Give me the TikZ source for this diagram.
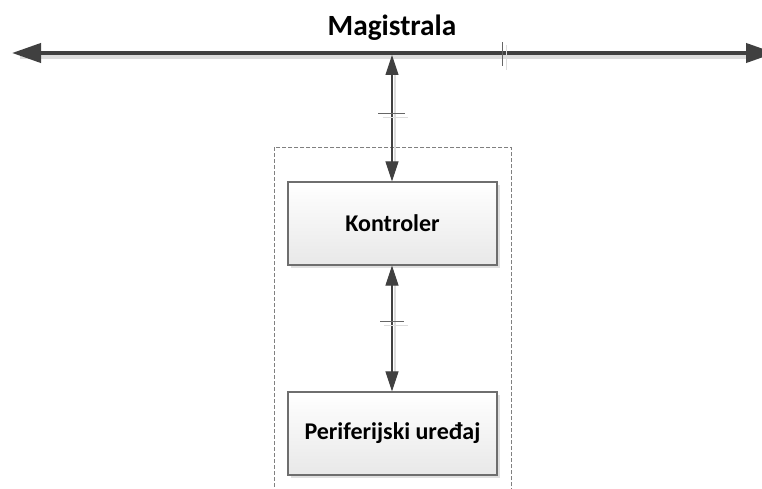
\documentclass[tikz,border=0pt]{standalone}
\usepackage{fontspec}
\setmainfont{Carlito}
\usetikzlibrary{arrows.meta,shadows}
\definecolor{dk}{HTML}{404040}
\definecolor{shd}{HTML}{DCDCDC}
\definecolor{bord}{HTML}{6E6E6E}
\tikzset{
  blockbox/.style={draw=bord, line width=0.9pt, top color=white, bottom color=black!9,
    minimum width=209*0.75pt, minimum height=83*0.75pt, inner sep=0pt,
    font=\fontsize{18}{21}\selectfont\bfseries,
    drop shadow={shadow xshift=2.5pt, shadow yshift=-2.5pt, fill=black!12, opacity=1}},
  busline/.style={draw=dk, line width=3pt,
    {Triangle[length=21.75pt,width=14.25pt]}-{Triangle[length=21.75pt,width=14.25pt]}},
  busshadow/.style={draw=shd, line width=3pt},
  link/.style={draw=dk, line width=0.8pt,
    {Triangle[length=15pt,width=9.75pt]}-{Triangle[length=15pt,width=9.75pt]}},
  linkshadow/.style={draw=shd, line width=0.8pt},
  tickmark/.style={draw=black!60, line width=0.7pt},
  container/.style={draw=black!50, line width=0.6pt, dash pattern=on 3pt off 1.5pt}
}
\begin{document}
\begin{tikzpicture}[x=0.75pt,y=-0.75pt]
\useasboundingbox (0,0) rectangle (762,488);
% container
\begin{scope}
\clip (0,0) rectangle (762,488);
\node[container, minimum width=237*0.75pt, minimum height=360*0.75pt, inner sep=0pt, anchor=north west] (cont) at (274,147) {};
\end{scope}
% title
\node[font=\fontsize{22}{26}\selectfont\bfseries] (title) at (392,28) {Magistrala};
% bus
\coordinate (busL) at (12,53);
\coordinate (busR) at (775,53);
\coordinate (busJ) at (392,55);
\draw[busshadow] (20,57.5) -- (748,57.5);
\draw[busline] (busL) -- (busR);
% boxes
\node[blockbox] (k) at (392.5,223.5) {Kontroler};
\node[blockbox] (p) at (392.5,433.5) {Periferijski uređaj};
% connectors
\draw[linkshadow] (395,75) -- (395,165);
\draw[link] (busJ) -- (k.north -| busJ);
\draw[linkshadow] (395,285) -- (395,375);
\draw[link] (k.south -| busJ) -- (p.north -| busJ);
% tick marks
\coordinate (t1) at (392,113);
\coordinate (t2) at (392,321);
\coordinate (t3) at (502,54.5);
\draw[tickmark] ([xshift=-10.5pt]t1) -- ([xshift=9.75pt]t1);
\draw[draw=shd, line width=0.7pt] ([xshift=-7pt,yshift=-3pt]t1) -- ([xshift=12pt,yshift=-3pt]t1);
\draw[tickmark] ([xshift=-9pt]t2) -- ([xshift=9pt]t2);
\draw[draw=shd, line width=0.7pt] ([xshift=-6pt,yshift=-3pt]t2) -- ([xshift=12pt,yshift=-3pt]t2);
\draw[tickmark] ([yshift=9pt]t3) -- ([yshift=-9pt]t3);
\draw[draw=shd, line width=0.7pt] ([xshift=3pt,yshift=7pt]t3) -- ([xshift=3pt,yshift=-12pt]t3);
\end{tikzpicture}
\end{document}
